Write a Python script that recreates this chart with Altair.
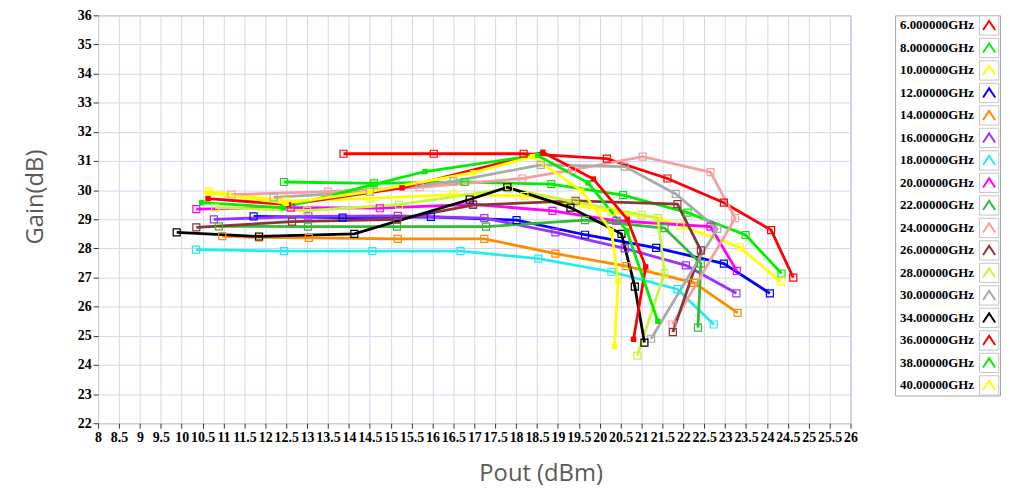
import altair as alt
import pandas as pd

LABELS = ["6.000000GHz", "8.000000GHz", "10.00000GHz", "12.00000GHz", "14.00000GHz",
          "16.00000GHz", "18.00000GHz", "20.00000GHz", "22.00000GHz", "24.00000GHz",
          "26.00000GHz", "28.00000GHz", "30.00000GHz", "34.00000GHz", "36.00000GHz",
          "38.00000GHz", "40.00000GHz"]
COLORS = ["#ff0000", "#00ee00", "#ffff00", "#0000ff", "#ff8c00", "#9933ff", "#22eeee",
          "#ff00ff", "#33bb33", "#f4a0a0", "#8b3535", "#c8f53a", "#aaaaaa", "#000000",
          "#ff0000", "#00ee00", "#ffff00"]
FILLED = ["36.00000GHz", "38.00000GHz", "40.00000GHz"]

X_TICKS = [8, 8.5, 9, 9.5, 10, 10.5, 11, 11.5, 12, 12.5, 13, 13.5, 14, 14.5, 15, 15.5,
           16, 16.5, 17, 17.5, 18, 18.5, 19, 19.5, 20, 20.5, 21, 21.5, 22, 22.5, 23,
           23.5, 24, 24.5, 25, 25.5, 26]
Y_TICKS = [22, 23, 24, 25, 26, 27, 28, 29, 30, 31, 32, 33, 34, 35, 36]

X_6 = [13.87, 16.03, 18.18, 20.17, 21.62, 22.97, 24.10, 24.63]
Y_6 = [31.25, 31.25, 31.25, 31.08, 30.40, 29.57, 28.63, 27.00]
X_8 = [12.45, 14.60, 16.77, 18.84, 20.56, 22.10, 23.49, 24.35]
Y_8 = [30.28, 30.23, 30.28, 30.21, 29.83, 29.23, 28.46, 27.14]
X_10 = [10.65, 12.50, 14.50, 16.50, 18.20, 20.28, 21.39, 21.93, 23.35, 24.33]
Y_10 = [29.95, 29.62, 29.72, 29.85, 29.80, 29.26, 29.04, 28.78, 28.04, 26.86]
X_12 = [11.72, 13.85, 15.96, 18.01, 19.65, 21.35, 22.97, 24.07]
Y_12 = [29.10, 29.06, 29.08, 28.97, 28.47, 28.02, 27.48, 26.46]
X_14 = [10.97, 11.85, 13.04, 15.17, 17.24, 18.94, 20.64, 22.26, 23.30]
Y_14 = [28.42, 28.38, 28.36, 28.33, 28.33, 27.82, 27.39, 26.82, 25.79]
X_16 = [10.77, 13.03, 15.17, 17.24, 18.94, 20.60, 22.06, 23.27]
Y_16 = [29.00, 29.10, 29.12, 29.04, 28.55, 28.00, 27.42, 26.46]
X_18 = [10.34, 12.45, 14.56, 16.67, 18.53, 20.28, 21.86, 22.73]
Y_18 = [27.96, 27.91, 27.91, 27.91, 27.65, 27.20, 26.60, 25.39]
X_20 = [10.35, 12.61, 14.74, 16.97, 18.87, 20.40, 22.65, 23.28]
Y_20 = [29.35, 29.40, 29.38, 29.51, 29.29, 28.95, 28.75, 27.23]
X_22 = [10.89, 13.02, 15.15, 17.28, 19.65, 21.55, 22.42, 22.35]
Y_22 = [28.76, 28.75, 28.75, 28.75, 28.97, 28.70, 27.48, 25.28]
X_24 = [11.19, 13.50, 15.69, 18.15, 19.34, 21.03, 22.65, 23.24, 21.74]
Y_24 = [29.85, 29.95, 30.10, 30.40, 30.70, 31.15, 30.62, 29.04, 25.39]
X_26 = [10.35, 12.64, 15.15, 16.97, 19.42, 21.86, 22.42, 21.75]
Y_26 = [28.72, 28.92, 29.00, 29.49, 29.63, 29.52, 27.93, 25.13]
X_28 = [10.80, 13.00, 15.20, 17.83, 19.40, 21.00, 21.39, 21.55, 20.90]
Y_28 = [29.40, 29.30, 29.50, 30.05, 29.60, 29.15, 29.05, 27.15, 24.32]
X_30 = [12.20, 14.50, 16.50, 18.59, 20.60, 21.82, 22.81, 21.23]
Y_30 = [29.75, 29.95, 30.30, 30.87, 30.81, 29.87, 28.67, 24.90]
X_34 = [9.88, 11.85, 14.13, 16.89, 17.79, 19.30, 20.52, 20.84, 21.07]
Y_34 = [28.55, 28.41, 28.50, 29.68, 30.10, 29.40, 28.50, 26.69, 24.77]
X_36 = [10.63, 12.55, 15.27, 18.64, 19.85, 20.66, 21.10, 20.81]
Y_36 = [29.71, 29.50, 30.08, 31.30, 30.38, 29.00, 27.37, 24.88]
X_38 = [10.48, 12.43, 14.60, 15.82, 18.50, 19.72, 20.65, 21.39]
Y_38 = [29.57, 29.40, 30.20, 30.64, 31.20, 30.25, 28.60, 25.50]
X_40 = [10.64, 12.50, 14.50, 16.97, 18.39, 19.57, 20.28, 20.44, 20.35]
Y_40 = [29.91, 29.55, 29.95, 30.60, 31.15, 29.97, 28.60, 26.86, 24.63]

XS = [X_6, X_8, X_10, X_12, X_14, X_16, X_18, X_20, X_22, X_24, X_26, X_28, X_30,
      X_34, X_36, X_38, X_40]
YS = [Y_6, Y_8, Y_10, Y_12, Y_14, Y_16, Y_18, Y_20, Y_22, Y_24, Y_26, Y_28, Y_30,
      Y_34, Y_36, Y_38, Y_40]

rows = []
for k, (lab, xs, ys) in enumerate(zip(LABELS, XS, YS)):
    for i, (xv, yv) in enumerate(zip(xs, ys)):
        rows.append({"series": lab, "pout": xv, "gain": yv, "idx": i, "k": k,
                     "mk": "filled" if lab in FILLED else "hollow"})
df = pd.DataFrame(rows)

TICK_FONT = "Liberation Serif"
TITLE_FONT = "Open Sans"

color = alt.Color("series:N", scale=alt.Scale(domain=LABELS, range=COLORS), legend=None)
x = alt.X("pout:Q",
          scale=alt.Scale(domain=[8, 26], nice=False, zero=False),
          axis=alt.Axis(values=X_TICKS, format="~g", title="Pout (dBm)", labelOverlap=False,
                        labelFlush=False,
                        labelFont=TICK_FONT, labelFontWeight="bold", labelFontSize=14,
                        labelColor="#000000", labelPadding=2, tickSize=5, tickColor="#333333",
                        domain=False, grid=True, gridColor="#d4d4f0", gridWidth=1,
                        titleFont=TITLE_FONT, titleFontSize=24, titleFontWeight="normal",
                        titleColor="#595959", titlePadding=18, titleX=447))
y = alt.Y("gain:Q",
          scale=alt.Scale(domain=[22, 36], nice=False, zero=False),
          axis=alt.Axis(values=Y_TICKS, format="d", title="Gain(dB)", labelFlush=False,
                        labelFont=TICK_FONT, labelFontWeight="bold", labelFontSize=14,
                        labelColor="#000000", labelPadding=2, tickSize=5, tickColor="#333333",
                        domain=False, grid=True, gridColor="#d4d4f0", gridWidth=1,
                        titleFont=TITLE_FONT, titleFontSize=24, titleFontWeight="normal",
                        titleColor="#595959", titlePadding=30, titleY=183))

base = alt.Chart(df)
lines = base.mark_line(strokeWidth=2.8).encode(
    x=x, y=y, color=color, detail="series:N", order="idx:Q")
hollow = base.transform_filter("datum.mk == 'hollow'").mark_point(
    shape="square", size=50, filled=False, strokeWidth=1.2, opacity=1).encode(
    x=x, y=y, color=color)
filled = base.transform_filter("datum.mk == 'filled'").mark_square(
    size=30, opacity=1).encode(x=x, y=y, color=color)

main = alt.layer(lines, hollow, filled).properties(width=760, height=412)

leg_df = pd.DataFrame({"series": LABELS})
ly = alt.Y("series:N", sort=LABELS, axis=None, scale=alt.Scale(type="point", padding=0.45))
leg_text = alt.Chart(leg_df).mark_text(
    align="left", baseline="middle", font=TICK_FONT, fontWeight="bold", fontSize=13,
    color="#000000").encode(x=alt.value(5), y=ly, text="series:N")
leg_box = alt.Chart(leg_df).mark_point(
    shape="square", size=380, filled=True, fill="#ffffff", stroke="#c4c4c4",
    strokeWidth=1, opacity=1).encode(x=alt.value(95), y=ly)
leg_sym = alt.Chart(leg_df).mark_point(
    shape="M-1,0.75L0,-0.75L1,0.75", filled=False, strokeWidth=2, size=150,
    opacity=1).encode(x=alt.value(95), y=ly, color=color)
legend = alt.layer(leg_text, leg_box, leg_sym).properties(width=106, height=384)

chart = alt.hconcat(main, legend, spacing=36).properties(
    padding={"left": 15, "top": -3, "right": 0, "bottom": 0},
    background="#ffffff",
).configure_view(stroke="#a6a6a6", strokeWidth=1)

chart.save("out.html", embed_options={"renderer": "svg", "actions": False})
